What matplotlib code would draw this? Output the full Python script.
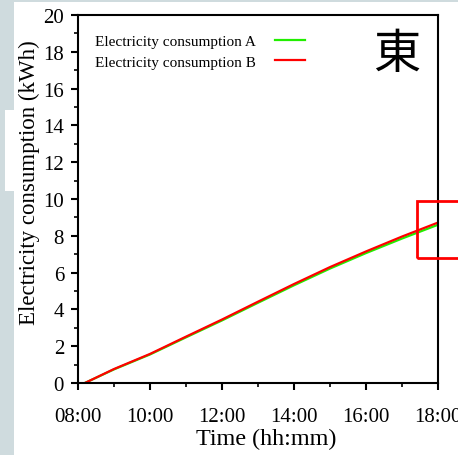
import matplotlib.pyplot as plt
from matplotlib.patches import Rectangle
from matplotlib.ticker import MultipleLocator

plt.rcParams.update({
    'font.family': ['Liberation Serif', 'DejaVu Serif'],
    'axes.linewidth': 1.5,
    'xtick.major.width': 1.5,
    'ytick.major.width': 1.5,
    'xtick.minor.width': 1.2,
    'ytick.minor.width': 1.2,
})

# Hourly readings (hours after midnight)
horas = [8.19, 9, 10, 11, 12, 13, 14, 15, 16, 17, 18]
consumo_a = [0, 0.74, 1.55, 2.48, 3.40, 4.36, 5.31, 6.22, 7.06, 7.85, 8.60]
consumo_b = [0, 0.76, 1.58, 2.52, 3.45, 4.42, 5.38, 6.30, 7.15, 7.96, 8.72]

ticks_x = [8, 10, 12, 14, 16, 18]
etiquetas_x = ["08:00", "10:00", "12:00", "14:00", "16:00", "18:00"]

W, H = 458, 456
fig = plt.figure(figsize=(W / 100, H / 100), dpi=100)


def caja_px(x0, y0, x1, y1, color):
    # rectangle given in pixel coords measured from the top-left corner
    fig.patches.append(Rectangle((x0 / W, 1 - y1 / H), (x1 - x0) / W, (y1 - y0) / H,
                                 transform=fig.transFigure, color=color, lw=0, zorder=0))


gris = '#cfdbde'
caja_px(0, 0, W, 3, gris)
caja_px(0, 0, 14, 111, gris)
caja_px(0, 111, 5, 192, gris)
caja_px(0, 192, 14, H, gris)

ax = fig.add_axes([78 / W, 1 - 384 / H, 360 / W, 368 / H])
ax.plot(horas, consumo_a, color='#22ee00', lw=1.6, label='Electricity consumption A')
ax.plot(horas, consumo_b, color='#ff0000', lw=1.6, label='Electricity consumption B')

ax.set_xlim(8, 18)
ax.set_ylim(0, 20)
ax.set_xticks(ticks_x)
ax.set_xticklabels(etiquetas_x)
ax.xaxis.set_minor_locator(MultipleLocator(1))
ax.yaxis.set_major_locator(MultipleLocator(2))
ax.yaxis.set_minor_locator(MultipleLocator(1))
ax.tick_params(which='major', direction='out', length=5, labelsize=15)
ax.tick_params(which='minor', direction='out', length=3)
ax.tick_params(axis='x', which='major', pad=12)
ax.tick_params(axis='y', which='major', pad=5)

ax.set_xlabel('Time (hh:mm)', fontsize=17.4)
ax.xaxis.set_label_coords(0.522, -0.123)
ax.set_ylabel('Electricity consumption (kWh)', fontsize=16.5)
ax.yaxis.set_label_coords(-0.106, 0.547)

ax.legend(loc='upper left', bbox_to_anchor=(0.01, 0.985), frameon=False, fontsize=11,
          markerfirst=False, handlelength=2.0, handletextpad=1.2, labelspacing=0.45)

ax.text(0.886, 0.895, '東', transform=ax.transAxes, fontsize=34, ha='center', va='center',
        family=['Noto Sans CJK TC', 'DejaVu Sans'])

# zoom box at the end of the day
ax.add_patch(Rectangle((17.42, 6.8), 2.5, 3.1, fill=False, edgecolor='#ff0000', lw=2,
                       clip_on=False, zorder=5))

fig.savefig('out.png', dpi=100)
